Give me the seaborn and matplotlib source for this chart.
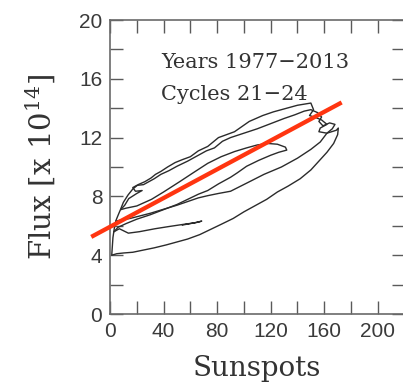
import numpy as np
import pandas as pd
import matplotlib
matplotlib.use("Agg")
import matplotlib.pyplot as plt
import seaborn as sns
from matplotlib.ticker import MultipleLocator

# ---- data (sunspot number, flux in 1e14) ----
c21_sunspots = [3.5, 2.2, 1.3, 5, 10, 17, 25, 33, 42, 50, 58, 67, 75,
                83, 92, 100, 108, 117, 125, 133, 142, 150, 157,
                162, 167, 170, 170.5, 169, 162, 156, 157, 162, 158,
                154, 149, 152, 150, 140, 130, 122, 114, 104, 93,
                87, 81, 73, 66, 60, 54, 48.6, 43, 38, 34,
                30.6, 26, 21, 17, 13.5, 10, 7.8, 5.5, 4.2]
c21_flux = [6.0, 5.2, 4.0, 4.1, 4.15, 4.2, 4.35, 4.5, 4.7, 4.9, 5.1, 5.4, 5.75,
            6.1, 6.5, 6.95, 7.35, 7.8, 8.3, 8.7, 9.2, 9.8, 10.5,
            11.0, 11.6, 12.2, 12.65, 12.5, 12.3, 12.4, 12.65, 12.9, 13.2,
            13.35, 13.5, 13.9, 14.35, 14.2, 13.95, 13.75, 13.5, 13.1, 12.4,
            12.2, 12.0, 11.4, 11.1, 10.7, 10.5, 10.3, 10.0, 9.7, 9.5,
            9.25, 9.0, 8.8, 8.5, 8.1, 7.6, 7.1, 6.6, 6.3]

c22_sunspots = [4.2, 8, 15, 30, 50, 66, 73, 81, 90, 102, 115, 128, 140, 150,
                157, 162, 166, 168, 164, 159, 156, 158, 155, 150, 145, 138,
                130, 120, 110, 100, 90, 84, 78, 72, 65, 58, 50, 44, 38, 33,
                28, 25, 20, 17, 19, 24, 20, 14, 11, 8]
c22_flux = [6.3, 6.4, 6.5, 6.85, 7.4, 7.9, 8.05, 8.2, 8.35, 8.9, 9.5, 10.0, 10.6, 11.2,
            11.7, 12.3, 12.6, 12.9, 13.0, 12.8, 13.1, 13.4, 13.7, 13.9, 13.8, 13.55,
            13.3, 12.95, 12.6, 12.3, 12.0, 11.75, 11.3, 11.1, 10.75, 10.4, 10.05, 9.75, 9.5, 9.2,
            8.95, 8.8, 8.75, 8.6, 8.35, 8.4, 8.2, 7.85, 7.4, 7.1]

c23_sunspots = [8, 12, 20, 31, 40, 52, 62, 73, 83, 93, 102, 110, 118, 125,
                131, 132, 126, 120, 111, 102, 95, 90, 81, 73, 66, 58,
                50, 40, 30, 20, 12, 6, 3]
c23_flux = [7.1, 7.2, 7.35, 7.8, 8.3, 9.0, 9.6, 10.25, 10.7, 11.05, 11.3, 11.5, 11.6, 11.55,
            11.35, 11.15, 11.0, 10.8, 10.45, 10.05, 9.6, 9.3, 8.85, 8.4, 8.15, 7.8,
            7.45, 7.1, 6.75, 6.45, 6.15, 5.9, 5.6]

c24_sunspots = [3, 7, 13.7, 22, 33.6, 44, 55, 63, 68.5, 66, 60, 54]
c24_flux = [5.6, 5.8, 5.5, 5.6, 5.8, 5.95, 6.1, 6.2, 6.32, 6.25, 6.15, 6.05]

cycle_names = ["21", "22", "23", "24"]

# linear fit drawn in red
fit_range = [-14, 173]
fit_intercept = 5.93
fit_slope = 0.0489

x_ticks = [0, 40, 80, 120, 160, 200]
y_ticks = [0, 4, 8, 12, 16, 20]

# ---- build table ----
frames = []
for name, xs, ys in zip(cycle_names,
                        [c21_sunspots, c22_sunspots, c23_sunspots, c24_sunspots],
                        [c21_flux, c22_flux, c23_flux, c24_flux]):
    frames.append(pd.DataFrame({"Sunspots": xs, "Flux": ys, "Cycle": name}))
df = pd.concat(frames, ignore_index=True)

sns.set_theme(style="ticks")
plt.rcParams["font.family"] = ["Liberation Sans", "DejaVu Sans"]
plt.rcParams["mathtext.fontset"] = "dejavuserif"

W, H = 403, 384
fig = plt.figure(figsize=(W / 100, H / 100), dpi=100)
ax = fig.add_axes([110 / W, 70 / H, 294.6 / W, 294 / H])

sns.lineplot(data=df, x="Sunspots", y="Flux", units="Cycle", estimator=None,
             sort=False, color="#2b2b2b", lw=1.0, ax=ax, legend=False)

fx = np.array(fit_range, dtype=float)
ax.plot(fx, fit_intercept + fit_slope * fx, color="#ff3510", lw=3.1,
        solid_capstyle="butt", clip_on=False, zorder=5)

ax.set_xlim(0, 220)
ax.set_ylim(0, 20)
ax.set_xticks(x_ticks)
ax.set_yticks(y_ticks)
ax.xaxis.set_minor_locator(MultipleLocator(20))
ax.yaxis.set_minor_locator(MultipleLocator(2))
ax.tick_params(which="both", direction="in", top=True, right=True,
               length=9.5, width=1.0, color="#5a5a5a")
ax.tick_params(which="major", labelsize=15, labelcolor="#3a3a3a")
ax.tick_params(axis="x", which="major", pad=5.5)
ax.tick_params(axis="y", which="major", pad=5.5)
for sp in ax.spines.values():
    sp.set_color("#6a6a6a")
    sp.set_linewidth(1.2)

serif = ["DejaVu Serif"]
ax.set_xlabel("Sunspots", fontsize=20, family=serif, color="#333333")
ax.xaxis.label.set_va("baseline")
ax.xaxis.set_label_coords(0.5, -62 / 294)

ax.set_ylabel("Flux [x 10$^{14}$]", fontsize=21, family=serif, color="#333333")
ax.yaxis.label.set_rotation_mode("anchor")
ax.yaxis.label.set_ha("center")
ax.yaxis.label.set_va("baseline")
ax.yaxis.set_label_coords(-58.5 / 294.6, 0.5)

ax.text(51 / 294.6, (314 - 68.3) / 294, "Years 1977\u22122013", transform=ax.transAxes,
        fontsize=15, family=serif, color="#333333", ha="left", va="baseline")
ax.text(51 / 294.6, (314 - 100) / 294, "Cycles 21\u221224", transform=ax.transAxes,
        fontsize=15, family=serif, color="#333333", ha="left", va="baseline")

fig.savefig("out.png", dpi=100, facecolor="white")
